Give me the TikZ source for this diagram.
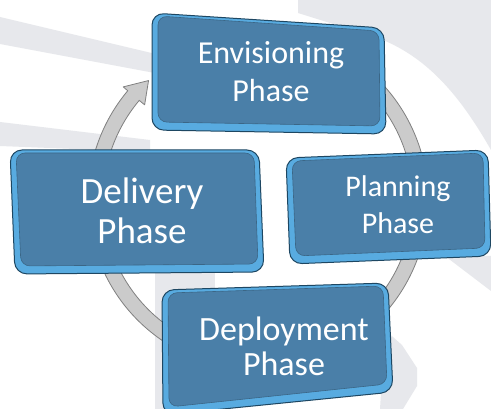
\documentclass[tikz,border=0pt]{standalone}
\usepackage{fontspec}
\setmainfont{Carlito}
\definecolor{bggrey}{HTML}{E7E8EC}
\definecolor{bevel}{HTML}{58ABE0}
\definecolor{face}{HTML}{4A7FA8}
\definecolor{rimdark}{HTML}{1E4762}
\definecolor{ringfill}{HTML}{CBCBCB}
\definecolor{ringedge}{HTML}{808080}
\tikzset{
  swoosh/.style={fill=bggrey, draw=none},
  outerbox/.style={fill=bevel, draw=rimdark, line width=1pt, rounded corners=12pt},
  facebox/.style={fill=face, draw=face!80!black, line width=0.6pt, rounded corners=9pt},
  ringshape/.style={fill=ringfill, draw=ringedge, line width=0.8pt, line join=round},
  phaselabel/.style={text=white, align=center, inner sep=0pt},
}
\begin{document}
\begin{tikzpicture}[x=1pt,y=-1pt]
\useasboundingbox (0,0) rectangle (491,409);
\fill[white] (0,0) rectangle (491,409);

% background swooshes
\fill[swoosh] (0,17) -- (160,55) -- (160,74) -- (0,44) -- cycle;
\fill[swoosh] (0,122) -- (150,140) -- (150,152) -- (0,146) -- cycle;
\fill[swoosh] (298,0) -- (491,0) -- (491,150) .. controls (458,92) and (425,56) .. (378,38) -- (298,13) -- cycle;
\fill[swoosh] (445,256) -- (491,256) -- (491,291) -- cycle;
\fill[swoosh] (385,330) -- (402,345) -- (417,368) -- (417,386) -- (403,409) -- (380,409) -- cycle;
\fill[swoosh] (155,273) -- (215,273) -- (215,409) -- (155,409) -- cycle;

% cycle ring with arrow head
\coordinate (c) at (258,200);
\draw[ringshape]
  ([shift={(c)}]-115:170) arc[start angle=-115, end angle=220, radius=170]
  -- ([shift={(c)}]220:176) -- ([shift={(c)}]227.5:162)
  -- ([shift={(c)}]220:148) -- ([shift={(c)}]220:155)
  arc[start angle=220, end angle=-115, radius=155] -- cycle;

% Envisioning box
\draw[outerbox] (152,13) -- (384,28) -- (386,134) -- (152,130) -- cycle;
\fill[facebox] (158,16) -- (379,31) -- (380,126) -- (158,122) -- cycle;
% Delivery box
\draw[outerbox] (10,150) -- (259,150) -- (264,272) -- (15,274) -- cycle;
\fill[facebox] (16,153) -- (254,153) -- (258,264) -- (21,266) -- cycle;
% Planning box
\draw[outerbox] (286,158) -- (488,150) -- (491,256) -- (290,264) -- cycle;
\fill[facebox] (292,161) -- (483,153) -- (485,248) -- (296,256) -- cycle;
% Deployment box
\draw[outerbox] (162,290) -- (388,283) -- (393,392) -- (163,415) -- cycle;
\fill[facebox] (168,293) -- (383,286) -- (387,384) -- (169,407) -- cycle;

% labels
\node[phaselabel, font=\fontsize{32}{38}\selectfont] (env) at (271,72) {Envisioning\\Phase};
\node[phaselabel, font=\fontsize{37}{40}\selectfont] (del) at (142,211) {Delivery\\Phase};
\node[phaselabel, font=\fontsize{30}{37}\selectfont] (pla) at (398,205) {Planning\\Phase};
\node[phaselabel, font=\fontsize{34}{35}\selectfont] (dep) at (284,346) {Deployment\\Phase};
\end{tikzpicture}
\end{document}
